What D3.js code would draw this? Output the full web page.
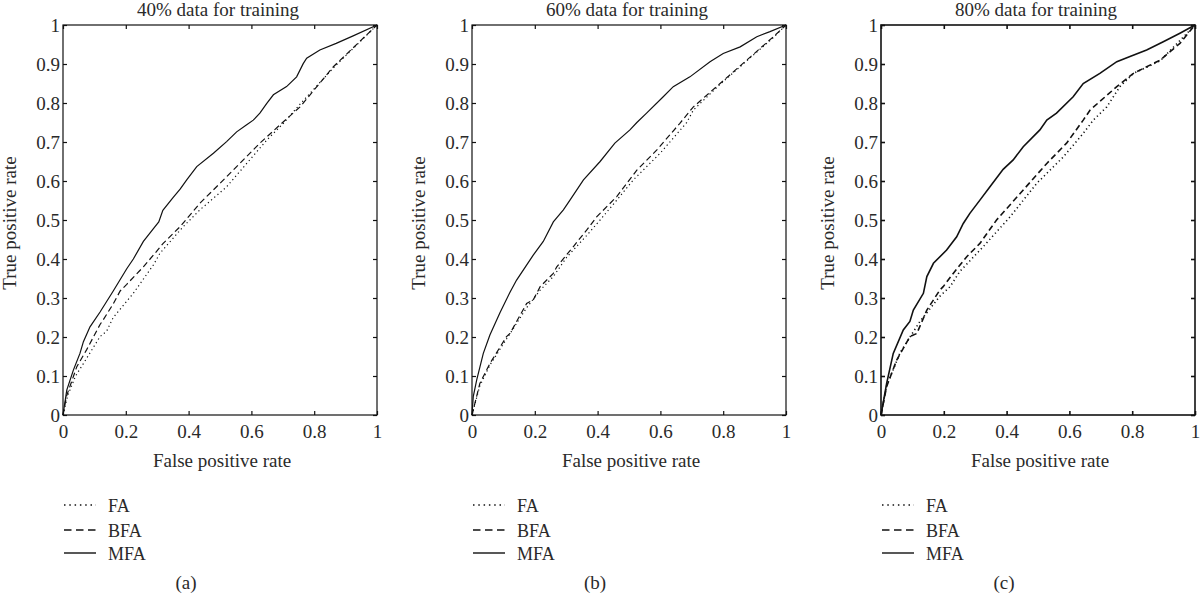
<!DOCTYPE html>
<html>
<head>
<meta charset="utf-8">
<script src="https://cdn.jsdelivr.net/npm/d3@7"></script>
<style>
  body { margin: 0; background: #fff; }
  svg { display: block; }
  text { font-family: "Liberation Serif", "DejaVu Serif", serif; fill: #2a2a2a; }
</style>
</head>
<body>
<div id="chart"></div>
<script>
// ROC curves, [false positive rate, true positive rate]
const fa40 = [[0,0],[.015,.050],[.040,.100],[.065,.132],[.118,.201],[.139,.215],[.160,.250],[.224,.312],[.288,.385],[.309,.415],[.383,.483],[.436,.526],[.521,.585],[.585,.645],[.649,.705],[.702,.748],[.755,.797],[.861,.890],[1,1]];
const bfa40 = [[0,0],[.011,.048],[.044,.124],[.075,.167],[.118,.232],[.128,.244],[.160,.285],[.182,.318],[.203,.335],[.256,.380],[.288,.410],[.319,.440],[.373,.483],[.436,.543],[.5,.594],[.553,.637],[.627,.697],[.702,.752],[.755,.790],[.861,.893],[1,1]];
const mfa40 = [[0,0],[.012,.064],[.033,.115],[.054,.158],[.065,.188],[.086,.226],[.118,.264],[.160,.318],[.203,.375],[.224,.400],[.256,.445],[.288,.478],[.305,.495],[.318,.525],[.351,.558],[.373,.579],[.394,.603],[.426,.637],[.479,.671],[.521,.701],[.553,.726],[.585,.744],[.606,.756],[.627,.774],[.649,.799],[.670,.821],[.712,.842],[.744,.867],[.765,.901],[.776,.915],[.818,.936],[.870,.953],[.924,.972],[1,1]];

const fa60 = [[0,0],[.025,.075],[.057,.128],[.110,.195],[.174,.275],[.217,.320],[.259,.355],[.302,.405],[.365,.460],[.408,.500],[.460,.550],[.514,.603],[.599,.671],[.684,.750],[.705,.782],[.790,.848],[.875,.908],[.960,.968],[1,1]];
const bfa60 = [[0,0],[.025,.081],[.057,.132],[.110,.201],[.121,.209],[.174,.286],[.195,.295],[.217,.329],[.259,.363],[.270,.380],[.323,.432],[.365,.474],[.397,.508],[.461,.560],[.525,.628],[.588,.679],[.662,.748],[.705,.790],[.790,.850],[.875,.910],[.960,.970],[1,1]];
const mfa60 = [[0,0],[.004,.047],[.015,.090],[.036,.158],[.057,.205],[.089,.262],[.121,.315],[.142,.346],[.195,.410],[.227,.445],[.259,.495],[.291,.526],[.312,.551],[.355,.603],[.408,.650],[.455,.697],[.503,.731],[.525,.750],[.556,.774],[.609,.816],[.641,.842],[.694,.867],[.758,.906],[.800,.927],[.854,.944],[.907,.970],[.949,.983],[1,1]];

const fa80 = [[0,0],[.018,.075],[.061,.160],[.124,.240],[.188,.305],[.220,.329],[.251,.368],[.326,.432],[.411,.508],[.496,.594],[.581,.662],[.644,.722],[.676,.756],[.719,.790],[.761,.842],[.804,.876],[.889,.908],[1,1]];
const bfa80 = [[0,0],[.018,.073],[.050,.141],[.092,.201],[.114,.209],[.146,.269],[.188,.321],[.198,.329],[.230,.363],[.273,.406],[.305,.432],[.315,.440],[.368,.500],[.453,.577],[.528,.645],[.591,.697],[.644,.756],[.666,.782],[.751,.842],[.804,.876],[.889,.910],[.952,.953],[1,1]];
const mfa80 = [[0,0],[.018,.081],[.039,.158],[.071,.218],[.092,.240],[.103,.269],[.135,.312],[.146,.355],[.167,.389],[.209,.423],[.241,.457],[.262,.491],[.283,.517],[.315,.551],[.347,.585],[.389,.630],[.421,.654],[.453,.688],[.506,.731],[.528,.756],[.559,.774],[.612,.816],[.644,.850],[.697,.876],[.751,.906],[.793,.919],[.846,.936],[.899,.957],[.952,.979],[1,1]];

const titles = ['40% data for training', '60% data for training', '80% data for training'];
const captions = ['(a)', '(b)', '(c)'];
const seriesNames = ['FA', 'BFA', 'MFA'];
const xTicks = [0, 0.2, 0.4, 0.6, 0.8, 1];
const yTicks = [0, 0.1, 0.2, 0.3, 0.4, 0.5, 0.6, 0.7, 0.8, 0.9, 1];

const panels = [
    { left: 63, data: [fa40, bfa40, mfa40], lw: 1.2 },
    { left: 472, data: [fa60, bfa60, mfa60], lw: 1.2 },
    { left: 881, data: [fa80, bfa80, mfa80], lw: 1.6 }
];

const dashes = ['1.2,3', '6,3.5', null];
const legendDashes = ['1.5,3.8', '7.5,4.5', null];

const W = 1200, H = 595;
const plotW = 314, plotTop = 25, plotBottom = 415;

const svg = d3.select('#chart').append('svg')
    .attr('width', W)
    .attr('height', H);

panels.forEach((p, i) => {
    const x = d3.scaleLinear().domain([0, 1]).range([p.left, p.left + plotW]);
    const y = d3.scaleLinear().domain([0, 1]).range([plotBottom, plotTop]);
    const g = svg.append('g');

    // curves
    const line = d3.line().x(d => x(d[0])).y(d => y(d[1]));
    p.data.forEach((s, k) => {
        g.append('path')
            .attr('d', line(s))
            .attr('fill', 'none')
            .attr('stroke', '#111')
            .attr('stroke-width', p.lw)
            .attr('stroke-dasharray', dashes[k]);
    });

    // axes, ticks pointing inward
    const fmt = d => String(d);
    const xb = g.append('g').attr('transform', `translate(0,${plotBottom})`)
        .call(d3.axisBottom(x).tickValues(xTicks).tickFormat(fmt).tickSize(-4).tickPadding(9.5));
    const yl = g.append('g').attr('transform', `translate(${p.left},0)`)
        .call(d3.axisLeft(y).tickValues(yTicks).tickFormat(fmt).tickSize(-4).tickPadding(3));
    const xt = g.append('g').attr('transform', `translate(0,${plotTop})`)
        .call(d3.axisTop(x).tickValues(xTicks).tickFormat('').tickSize(-4));
    const yr = g.append('g').attr('transform', `translate(${p.left + plotW},0)`)
        .call(d3.axisRight(y).tickValues(yTicks).tickFormat('').tickSize(-4));

    [xb, yl, xt, yr].forEach(a => {
        a.select('.domain').remove();
        a.selectAll('line').attr('stroke', '#111').attr('stroke-width', p.lw);
        a.selectAll('text')
            .style('font-family', '"Liberation Serif", serif')
            .style('font-size', '19px')
            .attr('fill', '#2a2a2a');
    });

    // frame
    g.append('rect')
        .attr('x', p.left)
        .attr('y', plotTop)
        .attr('width', plotW)
        .attr('height', plotBottom - plotTop)
        .attr('fill', 'none')
        .attr('stroke', '#111')
        .attr('stroke-width', p.lw);

    // title and axis labels
    g.append('text')
        .attr('x', p.left + plotW / 2 - 2)
        .attr('y', 16)
        .attr('text-anchor', 'middle')
        .style('font-size', '19px')
        .text(titles[i]);

    g.append('text')
        .attr('x', p.left + plotW / 2 + 2)
        .attr('y', 467)
        .attr('text-anchor', 'middle')
        .style('font-size', '19px')
        .text('False positive rate');

    g.append('text')
        .attr('transform', `translate(${p.left - 47},${(plotTop + plotBottom) / 2 + 3}) rotate(-90)`)
        .attr('text-anchor', 'middle')
        .style('font-size', '19px')
        .text('True positive rate');

    // legend
    const rows = [505, 530, 553];
    seriesNames.forEach((name, k) => {
        g.append('line')
            .attr('x1', p.left + 1)
            .attr('x2', p.left + 33)
            .attr('y1', rows[k])
            .attr('y2', rows[k])
            .attr('stroke', '#111')
            .attr('stroke-width', 1.4)
            .attr('stroke-dasharray', legendDashes[k]);
        g.append('text')
            .attr('x', p.left + 45)
            .attr('y', rows[k] + 7)
            .style('font-size', '18px')
            .text(name);
    });

    g.append('text')
        .attr('x', p.left + 123)
        .attr('y', 589)
        .attr('text-anchor', 'middle')
        .style('font-size', '19px')
        .text(captions[i]);
});
</script>
</body>
</html>
